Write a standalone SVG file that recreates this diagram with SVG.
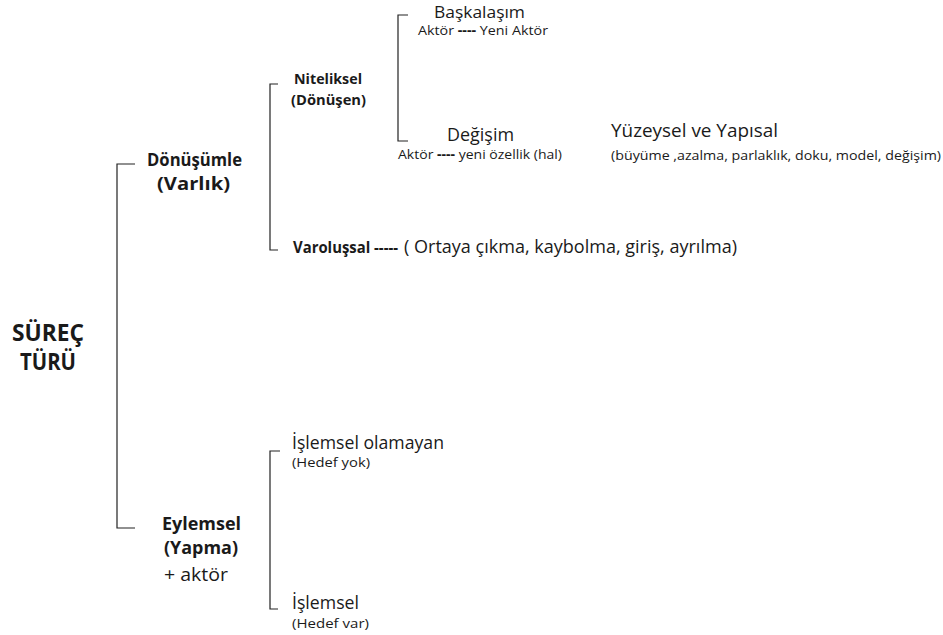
<svg xmlns="http://www.w3.org/2000/svg" width="943" height="635" viewBox="0 0 943 635">
<style>
text{font-family:"Open Sans","Noto Sans","DejaVu Sans",sans-serif;fill:#1a1a1a}
.b{font-weight:bold}
.l{fill:none;stroke:#222;stroke-width:1.2}
.t16{font-size:17.5px}
.t15{font-size:15.5px}
.t14{font-size:14.5px}
.t12{font-size:13.5px}
</style>
<rect width="943" height="635" fill="#fff"/>
<g id="connectors">
<path class="l" d="M135,164 H117 V528 H135"/>
<path class="l" d="M278,84 H270 V250 H278"/>
<path class="l" d="M408,15 H398 V141 H408"/>
<path class="l" d="M280,451 H270 V609 H278"/>
</g>
<g id="root"><text class="b" x="12" y="341" font-size="23" textLength="72" lengthAdjust="spacingAndGlyphs">SÜREÇ</text><text class="b" x="20" y="370" font-size="23" textLength="56" lengthAdjust="spacingAndGlyphs">TÜRÜ</text></g>
<g id="donusumle"><text class="b t16" x="147" y="166" textLength="95" lengthAdjust="spacingAndGlyphs">Dönüşümle</text><text class="b t16" x="157" y="190" textLength="73" lengthAdjust="spacingAndGlyphs">(Varlık)</text></g>
<g id="niteliksel"><text class="b t14" x="294" y="84" textLength="68" lengthAdjust="spacingAndGlyphs">Niteliksel</text><text class="b t14" x="291" y="105" textLength="75" lengthAdjust="spacingAndGlyphs">(Dönüşen)</text></g>
<g id="baskalasim"><text x="434" y="17.5" font-size="16.5" textLength="91" lengthAdjust="spacingAndGlyphs">Başkalaşım</text><text class="t12" x="418" y="35" textLength="130" lengthAdjust="spacingAndGlyphs">Aktör <tspan class="b">----</tspan> Yeni Aktör</text></g>
<g id="degisim"><text class="t16" x="447" y="141" textLength="67" lengthAdjust="spacingAndGlyphs">Değişim</text><text class="t12" x="398" y="159" textLength="164" lengthAdjust="spacingAndGlyphs">Aktör <tspan class="b">----</tspan> yeni özellik (hal)</text></g>
<g id="yuzeysel"><text class="t16" x="611" y="137" textLength="167" lengthAdjust="spacingAndGlyphs">Yüzeysel ve Yapısal</text><text class="t12" x="611" y="160" textLength="330" lengthAdjust="spacingAndGlyphs">(büyüme ,azalma, parlaklık, doku, model, değişim)</text></g>
<g id="varolussal"><text class="b t15" x="293" y="253" textLength="105" lengthAdjust="spacingAndGlyphs">Varoluşsal -----</text><text class="t16" x="404" y="253" textLength="333" lengthAdjust="spacingAndGlyphs">( Ortaya çıkma, kaybolma, giriş, ayrılma)</text></g>
<g id="islemsel-olamayan"><text class="t16" x="292" y="449" textLength="152" lengthAdjust="spacingAndGlyphs">İşlemsel olamayan</text><text class="t12" x="292" y="467" textLength="78" lengthAdjust="spacingAndGlyphs">(Hedef yok)</text></g>
<g id="eylemsel"><text class="b t16" x="162" y="530" textLength="79" lengthAdjust="spacingAndGlyphs">Eylemsel</text><text class="b t16" x="164" y="554" textLength="74" lengthAdjust="spacingAndGlyphs">(Yapma)</text><text class="t16" x="164" y="581" textLength="64" lengthAdjust="spacingAndGlyphs">+ aktör</text></g>
<g id="islemsel"><text class="t16" x="292" y="609" textLength="67" lengthAdjust="spacingAndGlyphs">İşlemsel</text><text class="t12" x="292" y="628" textLength="77" lengthAdjust="spacingAndGlyphs">(Hedef var)</text></g>
</svg>
